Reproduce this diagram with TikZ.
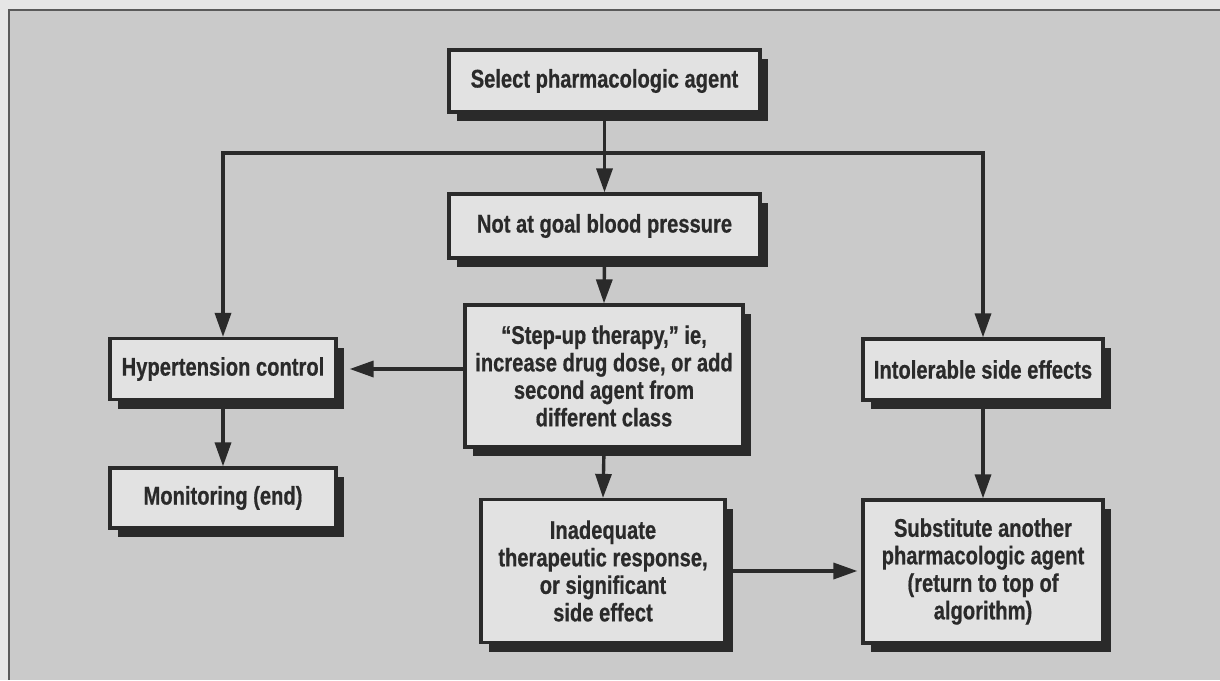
\documentclass[tikz,border=0pt]{standalone}
\usepackage{fontspec}
\setmainfont{Liberation Sans}[FakeStretch=0.79, BoldFeatures={FakeBold=0.6}]
\usetikzlibrary{arrows.meta,shadows,calc}
\definecolor{pagebg}{HTML}{E6E6E6}
\definecolor{panelbg}{HTML}{CACACA}
\definecolor{boxfill}{HTML}{E2E2E2}
\definecolor{ink}{HTML}{2A2A2A}
\definecolor{frameline}{HTML}{5A5A5A}
\begin{document}
\begin{tikzpicture}[x=1pt,y=-1pt,
  box/.style={draw=ink, line width=3.2pt, fill=boxfill, text=ink,
    font=\fontsize{25.5}{27.5}\selectfont\bfseries, align=center, inner sep=0pt,
    drop shadow={shadow xshift=8pt, shadow yshift=-9pt, fill=ink, opacity=1}},
  conn/.style={draw=ink, line width=3.4pt},
  arr/.style={conn, -{Triangle[length=24pt,width=16pt]}}]
\useasboundingbox (0,0) rectangle (1220,680);
\fill[pagebg] (0,0) rectangle (1220,680);
\fill[panelbg] (9,10) rectangle (1220,680);
\draw[frameline, line width=1.5pt] (1220,10) -- (9,10) -- (9,680);

\node[box, minimum width=311pt, minimum height=62pt] (sel) at (604.5,81) {Select pharmacologic agent};
\node[box, minimum width=311pt, minimum height=64pt] (goal) at (604.5,226) {Not at goal blood pressure};
\node[box, minimum width=278pt, minimum height=142pt] (step) at (604,376) {“Step-up therapy,” ie,\\increase drug dose, or add\\second agent from\\different class};
\node[box, minimum width=244pt, minimum height=143pt] (inad) at (603,571) {Inadequate\\therapeutic response,\\or significant\\side effect};
\node[box, minimum width=226pt, minimum height=61pt] (hyp) at (223,369) {Hypertension control};
\node[box, minimum width=226pt, minimum height=60pt] (mon) at (223,498) {Monitoring (end)};
\node[box, minimum width=240pt, minimum height=61pt] (intol) at (983,369.5) {Intolerable side effects};
\node[box, minimum width=240pt, minimum height=143pt] (subst) at (983,571.5) {Substitute another\\pharmacologic agent\\(return to top of\\algorithm)};

\coordinate (j) at ($(sel.south)!0.5!(goal.north)$);
\draw[arr] (sel.south) -- (goal.north);
\draw[arr] (j) -| (hyp.north);
\draw[arr] (j) -| (intol.north);
\draw[arr] (goal.south) -- (step.north);
\draw[arr] (step.south) -- (inad.north);
\draw[arr] (step.west |- hyp.east) -- ([xshift=12pt]hyp.east);
\draw[arr] (hyp.south) -- (mon.north);
\draw[arr] (intol.south) -- (subst.north);
\draw[arr, shorten >=4pt] (inad.east) -- (inad.east -| subst.west);
\end{tikzpicture}
\end{document}
